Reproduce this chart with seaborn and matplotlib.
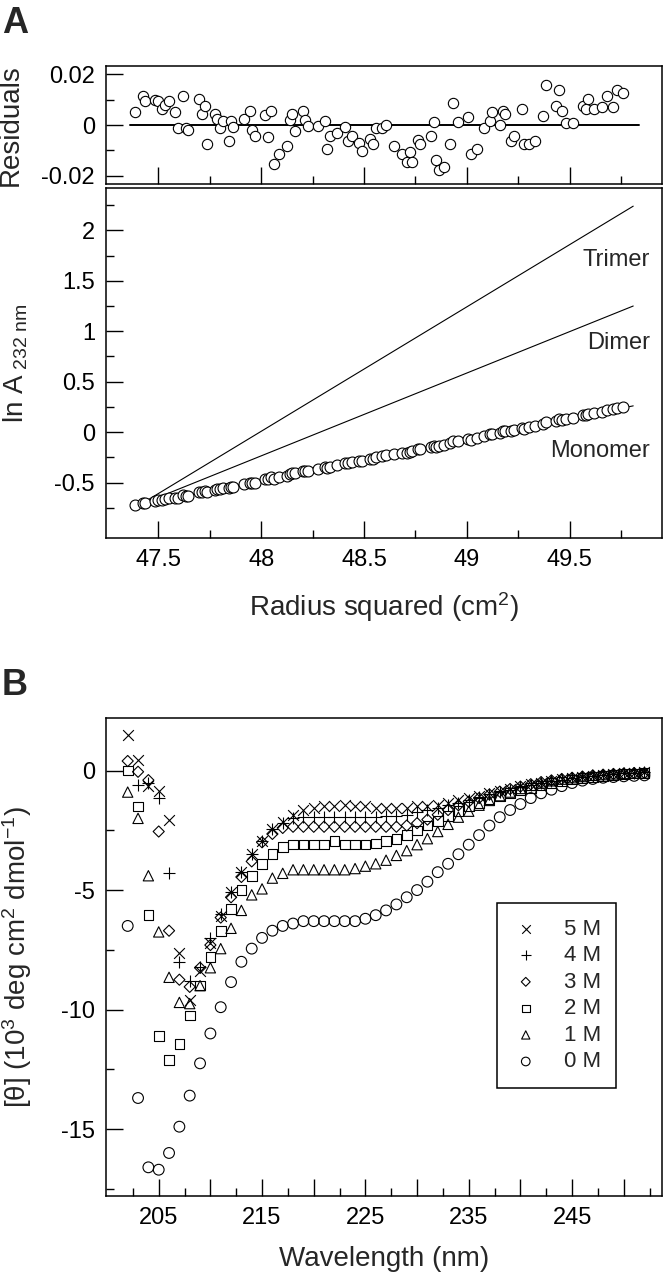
import numpy as np
import pandas as pd
import matplotlib
matplotlib.use('Agg')
import matplotlib.pyplot as plt
import seaborn as sns

sns.set_style('ticks')
plt.rcParams['font.family'] = ['Liberation Sans', 'DejaVu Sans']
plt.rcParams['mathtext.fontset'] = 'custom'
plt.rcParams['mathtext.rm'] = 'Liberation Sans'
plt.rcParams['mathtext.it'] = 'Liberation Sans:italic'
plt.rcParams['axes.unicode_minus'] = False

# ---- panel A data: sedimentation equilibrium ----
radius_sq = [47.386, 47.425, 47.437, 47.485, 47.500, 47.516, 47.530, 47.553, 47.580, 47.593,
             47.620, 47.632, 47.645, 47.696, 47.710, 47.725, 47.738, 47.773, 47.787, 47.800,
             47.812, 47.841, 47.853, 47.864, 47.917, 47.946, 47.957, 47.969, 48.019, 48.035,
             48.048, 48.062, 48.089, 48.127, 48.139, 48.152, 48.164, 48.203, 48.214, 48.228,
             48.278, 48.309, 48.319, 48.334, 48.371, 48.410, 48.423, 48.440, 48.477, 48.489,
             48.530, 48.543, 48.561, 48.588, 48.607, 48.648, 48.683, 48.708, 48.722, 48.735,
             48.762, 48.774, 48.828, 48.841, 48.851, 48.866, 48.890, 48.917, 48.932, 48.957,
             49.008, 49.019, 49.048, 49.085, 49.112, 49.124, 49.163, 49.178, 49.188, 49.215,
             49.230, 49.267, 49.277, 49.304, 49.333, 49.372, 49.385, 49.433, 49.449, 49.464,
             49.482, 49.515, 49.567, 49.582, 49.592, 49.617, 49.656, 49.681, 49.710, 49.730, 49.762]

residuals = [0.0051, 0.0116, 0.0096, 0.0099, 0.0096, 0.0064, 0.0077, 0.0095, 0.0053, -0.0010,
             0.0114, -0.0010, -0.0019, 0.0103, 0.0043, 0.0073, -0.0073, 0.0045, 0.0025, -0.0010,
             0.0017, -0.0064, 0.0014, -0.0009, 0.0025, 0.0055, -0.0018, -0.0042, 0.0040, -0.0049,
             0.0055, -0.0155, -0.0114, -0.0083, 0.0021, 0.0043, -0.0022, 0.0056, 0.0018, -0.0003,
             -0.0003, 0.0014, -0.0094, -0.0042, -0.0033, -0.0008, -0.0064, -0.0042, -0.0070, -0.0103,
             -0.0056, -0.0073, -0.0010, -0.0010, -0.0001, -0.0083, -0.0114, -0.0147, -0.0105, -0.0147,
             -0.0059, -0.0073, -0.0042, 0.0010, -0.0138, -0.0175, -0.0166, -0.0073, 0.0085, 0.0010,
             0.0032, -0.0114, -0.0094, -0.0012, 0.0014, 0.0053, -0.0001, 0.0056, 0.0043, -0.0064,
             -0.0042, 0.0064, -0.0073, -0.0073, -0.0064, 0.0034, 0.0156, 0.0075, 0.0138, 0.0056,
             0.0009, 0.0009, 0.0075, 0.0064, 0.0104, 0.0064, 0.0072, 0.0113, 0.0072, 0.0137, 0.0125]

ln_a = [-0.72, -0.70, -0.70, -0.68, -0.67, -0.67, -0.66, -0.65, -0.65, -0.65,
        -0.62, -0.63, -0.63, -0.59, -0.59, -0.58, -0.59, -0.57, -0.56, -0.56,
        -0.55, -0.55, -0.54, -0.54, -0.51, -0.50, -0.50, -0.50, -0.47, -0.47,
        -0.45, -0.47, -0.45, -0.44, -0.42, -0.41, -0.41, -0.39, -0.39, -0.39,
        -0.37, -0.35, -0.36, -0.35, -0.33, -0.31, -0.31, -0.30, -0.29, -0.29,
        -0.27, -0.27, -0.25, -0.24, -0.23, -0.22, -0.21, -0.21, -0.20, -0.19,
        -0.17, -0.17, -0.15, -0.14, -0.15, -0.14, -0.13, -0.11, -0.09, -0.09,
        -0.07, -0.08, -0.06, -0.04, -0.02, -0.02, -0.01, 0.01, 0.01, 0.01,
        0.02, 0.04, 0.03, 0.05, 0.06, 0.08, 0.10, 0.11, 0.13, 0.12,
        0.13, 0.14, 0.17, 0.17, 0.18, 0.19, 0.20, 0.22, 0.23, 0.24, 0.25]

# model lines (end points)
fit_x = [47.41, 49.81]
monomer_fit = [-0.72, 0.26]
dimer_fit = [-0.72, 1.25]
trimer_fit = [-0.72, 2.24]
zero_x = [47.36, 49.84]
zero_y = [0.0, 0.0]

res_ticks = [-0.02, 0, 0.02]
res_labels = ['-0.02', '0', '0.02']
lna_ticks = [-0.5, 0, 0.5, 1, 1.5, 2]
lna_labels = ['-0.5', '0', '0.5', '1', '1.5', '2']
r2_ticks = [47.5, 48, 48.5, 49, 49.5]
r2_labels = ['47.5', '48', '48.5', '49', '49.5']

# ---- panel B data: CD spectra in urea ----
wavelength = [202, 203, 204, 205, 206, 207, 208, 209, 210, 211,
              212, 213, 214, 215, 216, 217, 218, 219, 220, 221,
              222, 223, 224, 225, 226, 227, 228, 229, 230, 231,
              232, 233, 234, 235, 236, 237, 238, 239, 240, 241,
              242, 243, 244, 245, 246, 247, 248, 249, 250, 251, 252]

cd_5m = [1.5, 0.45, -0.65, -0.85, -2.05, -7.65, -9.6, -8.4, -7.2, -6.1,
         -5.1, -4.25, -3.5, -2.95, -2.45, -2.15, -1.85, -1.65, -1.55, -1.5,
         -1.5, -1.45, -1.5, -1.5, -1.55, -1.55, -1.55, -1.55, -1.5, -1.5,
         -1.45, -1.35, -1.25, -1.15, -1.05, -0.95, -0.85, -0.75, -0.65, -0.57,
         -0.5, -0.43, -0.37, -0.31, -0.26, -0.22, -0.18, -0.15, -0.12, -0.1, -0.08]
cd_4m = [np.nan, -0.6, -0.5, -1.15, -4.3, -8.0, -8.8, -8.2, -7.0, -6.0,
         -5.1, -4.25, -3.5, -2.95, -2.45, -2.2, -2.0, -1.95, -1.95, -1.95,
         -1.95, -1.95, -1.95, -1.95, -1.95, -1.9, -1.9, -1.85, -1.75, -1.65,
         -1.55, -1.45, -1.35, -1.25, -1.1, -1.0, -0.9, -0.8, -0.7, -0.6,
         -0.52, -0.45, -0.38, -0.32, -0.27, -0.22, -0.18, -0.15, -0.12, -0.1, -0.08]
cd_3m = [0.4, -0.05, -0.4, -2.55, -6.7, -8.75, -9.05, -8.25, -7.3, -6.15,
         -5.3, -4.45, -3.8, -3.0, -2.65, -2.4, -2.35, -2.35, -2.35, -2.35,
         -2.35, -2.35, -2.35, -2.35, -2.35, -2.35, -2.35, -2.3, -2.2, -2.05,
         -1.85, -1.65, -1.45, -1.3, -1.15, -1.0, -0.88, -0.77, -0.67, -0.57,
         -0.48, -0.41, -0.35, -0.3, -0.25, -0.2, -0.17, -0.14, -0.12, -0.1, -0.1]
cd_2m = [0.0, -1.5, -6.05, -11.1, -12.1, -11.45, -10.25, -9.0, -7.8, -6.7,
         -5.8, -5.0, -4.4, -3.9, -3.5, -3.2, -3.1, -3.1, -3.1, -3.1,
         -2.95, -3.1, -3.1, -3.1, -3.05, -2.95, -2.85, -2.7, -2.5, -2.3,
         -2.1, -1.9, -1.7, -1.5, -1.35, -1.2, -1.07, -0.95, -0.83, -0.72,
         -0.62, -0.53, -0.45, -0.38, -0.32, -0.27, -0.22, -0.18, -0.15, -0.12, -0.1]
cd_1m = [-0.9, -2.0, -4.4, -6.75, -8.65, -9.7, -9.75, -9.0, -8.25, -7.45,
         -6.6, -5.85, -5.2, -4.95, -4.5, -4.3, -4.15, -4.15, -4.15, -4.15,
         -4.15, -4.15, -4.1, -4.0, -3.9, -3.75, -3.55, -3.35, -3.1, -2.85,
         -2.55, -2.25, -1.95, -1.7, -1.45, -1.25, -1.05, -0.9, -0.75, -0.62,
         -0.52, -0.43, -0.36, -0.3, -0.25, -0.2, -0.17, -0.14, -0.12, -0.1, -0.1]
cd_0m = [-6.5, -13.7, -16.6, -16.7, -16.0, -14.9, -13.6, -12.25, -11.0, -9.9,
         -8.85, -8.0, -7.45, -7.0, -6.7, -6.5, -6.4, -6.3, -6.3, -6.3,
         -6.3, -6.3, -6.3, -6.2, -6.05, -5.85, -5.6, -5.3, -5.0, -4.65,
         -4.25, -3.9, -3.5, -3.1, -2.7, -2.3, -1.95, -1.65, -1.4, -1.15,
         -0.95, -0.8, -0.65, -0.52, -0.42, -0.35, -0.3, -0.27, -0.24, -0.22, -0.2]

urea_labels = ['5 M', '4 M', '3 M', '2 M', '1 M', '0 M']
cd_series = [cd_5m, cd_4m, cd_3m, cd_2m, cd_1m, cd_0m]
urea_markers = ['x', '+', 'D', 's', '^', 'o']
urea_sizes = [60, 80, 32, 48, 55, 60]

wl_ticks = [205, 210, 215, 220, 225, 230, 235, 240, 245, 250]
wl_labels = ['205', '', '215', '', '225', '', '235', '', '245', '']
cd_ticks = [0, -5, -10, -15]
cd_labels = ['0', '-5', '-10', '-15']

TICK_FS = 17
LABEL_FS = 20


def style_axes(ax):
    for s in ax.spines.values():
        s.set_color('black')
        s.set_linewidth(1.1)
    ax.tick_params(which='both', direction='in', top=False, right=False,
                   colors='black', width=1, labelsize=TICK_FS, pad=8)
    ax.tick_params(which='major', length=12)
    ax.tick_params(which='minor', length=6)


fig = plt.figure(figsize=(6.68, 12.8), dpi=100)
left, width = 106 / 668, 556 / 668
ax_res = fig.add_axes([left, 1 - 184 / 1280, width, 118 / 1280])
ax_a = fig.add_axes([left, 1 - 538 / 1280, width, 350 / 1280])
ax_b = fig.add_axes([left, 1 - 1196 / 1280, width, 478 / 1280])

# residuals
sns.lineplot(x=zero_x, y=zero_y, ax=ax_res, color='black', linewidth=1.4)
sns.scatterplot(x=radius_sq, y=residuals, ax=ax_res, marker='o', s=55,
                facecolor='white', edgecolor='black', linewidth=0.8, zorder=3)
ax_res.set_xlim(47.245, 49.95)
ax_res.set_ylim(-0.0232, 0.0232)
ax_res.set_yticks(res_ticks)
ax_res.set_yticklabels(res_labels)
ax_res.set_yticks([-0.01, 0.01], minor=True)
ax_res.set_xticks(r2_ticks)
ax_res.set_xticks([47.75, 48.25, 48.75, 49.25, 49.75], minor=True)
ax_res.set_xticklabels([])
ax_res.set_ylabel('Residuals', fontsize=LABEL_FS)
style_axes(ax_res)
ax_res.yaxis.set_label_coords(-0.148, 0.5)

# ln A vs r^2
for yfit in [monomer_fit, dimer_fit, trimer_fit]:
    sns.lineplot(x=fit_x, y=yfit, ax=ax_a, color='black', linewidth=0.8)
sns.scatterplot(x=radius_sq, y=ln_a, ax=ax_a, marker='o', s=62,
                facecolor='white', edgecolor='black', linewidth=0.8, zorder=3)
ax_a.text(49.89, 1.71, 'Trimer', ha='right', va='center', fontsize=17)
ax_a.text(49.89, 0.88, 'Dimer', ha='right', va='center', fontsize=17)
ax_a.text(49.89, -0.19, 'Monomer', ha='right', va='center', fontsize=17)
ax_a.set_xlim(47.245, 49.95)
ax_a.set_ylim(-1.05, 2.42)
ax_a.set_yticks(lna_ticks)
ax_a.set_yticklabels(lna_labels)
ax_a.set_yticks([-0.75, -0.25, 0.25, 0.75, 1.25, 1.75, 2.25], minor=True)
ax_a.set_xticks(r2_ticks)
ax_a.set_xticklabels(r2_labels)
ax_a.set_xticks([47.75, 48.25, 48.75, 49.25, 49.75], minor=True)
ax_a.set_ylabel(r'ln A$_{\mathrm{\ 232\ nm}}$', fontsize=LABEL_FS)
ax_a.set_xlabel(r'Radius squared (cm$^{\mathrm{2}}$)', fontsize=LABEL_FS, labelpad=14)
style_axes(ax_a)
ax_a.yaxis.set_label_coords(-0.136, 0.5)

# CD spectra
for lab, vals, mk, sz in zip(urea_labels, cd_series, urea_markers, urea_sizes):
    if mk in ('x', '+'):
        sns.scatterplot(x=wavelength, y=vals, ax=ax_b, marker=mk, s=sz,
                        color='black', linewidth=0.8, label=lab)
    else:
        sns.scatterplot(x=wavelength, y=vals, ax=ax_b, marker=mk, s=sz,
                        facecolor='none', edgecolor='black', linewidth=0.8, label=lab)
ax_b.set_xlim(199.9, 253.7)
ax_b.set_ylim(-17.8, 2.2)
ax_b.set_xticks(wl_ticks)
ax_b.set_xticklabels(wl_labels)
ax_b.set_xticks([202.5, 207.5, 212.5, 217.5, 222.5, 227.5, 232.5, 237.5, 242.5, 247.5, 252.5], minor=True)
ax_b.set_yticks(cd_ticks)
ax_b.set_yticklabels(cd_labels)
ax_b.set_yticks([-2.5, -7.5, -12.5, -17.5], minor=True)
ax_b.set_xlabel('Wavelength (nm)', fontsize=LABEL_FS, labelpad=12)
ax_b.set_ylabel('[θ] (10$^{\\mathrm{3}}$ deg cm$^{\\mathrm{2}}$ dmol$^{\\mathrm{-1}}$)',
                fontsize=LABEL_FS)
style_axes(ax_b)
ax_b.yaxis.set_label_coords(-0.13, 0.5)

leg = ax_b.legend(loc='upper left', bbox_to_anchor=(0.703, 0.613), borderaxespad=0,
                  fontsize=16, frameon=True, fancybox=False, framealpha=1,
                  edgecolor='black', markerscale=0.8, handletextpad=1.1,
                  labelspacing=0.25, borderpad=0.7, handlelength=1.2)
leg.get_frame().set_linewidth(1.1)

fig.text(0.003, 1 - 6 / 1280, 'A', fontsize=26, fontweight='bold', va='top', ha='left')
fig.text(0.003, 1 - 668 / 1280, 'B', fontsize=26, fontweight='bold', va='top', ha='left')

fig.savefig('out.png', dpi=100)
